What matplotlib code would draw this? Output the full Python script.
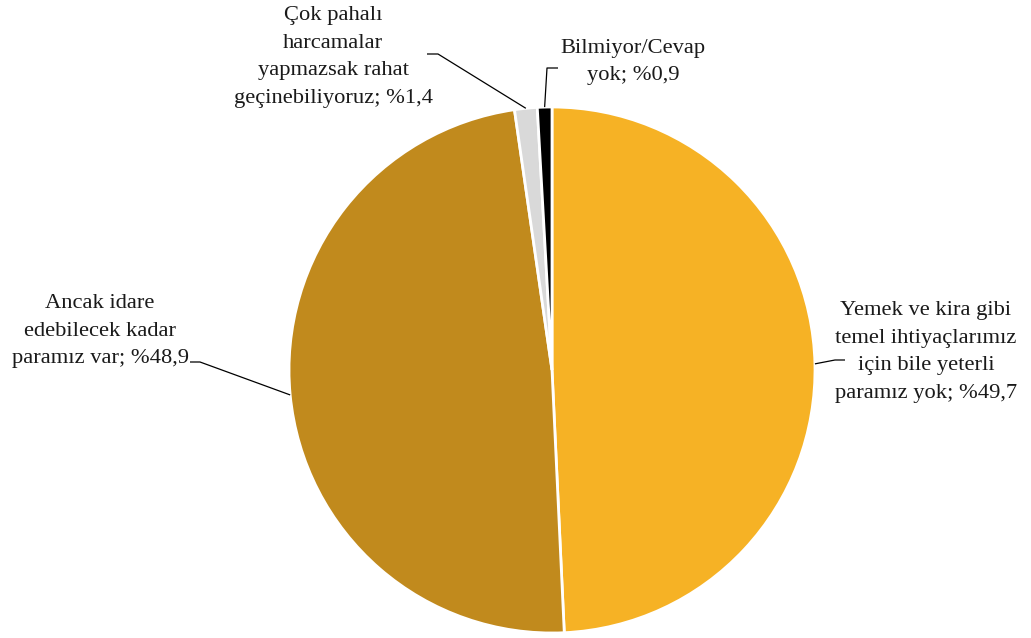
import matplotlib.pyplot as plt
import numpy as np

# answer categories and shares (%)
labels = [
    "Yemek ve kira gibi\ntemel ihtiyaçlarımız\niçin bile yeterli\nparamız yok; %49,7",
    "Ancak idare\nedebilecek kadar\nparamız var; %48,9",
    "Çok pahalı\nharcamalar\nyapmazsak rahat\ngeçinebiliyoruz; %1,4",
    "Bilmiyor/Cevap\nyok; %0,9",
]
shares = [49.7, 48.9, 1.4, 0.9]
colors = ["#F6B225", "#C18A1D", "#D9D9D9", "#000000"]

W, H = 1031, 638
fig = plt.figure(figsize=(W / 100, H / 100), dpi=100)
ax = fig.add_axes([0, 0, 1, 1])

cx, cy, r = 552, H - 370, 263
wedges, _ = ax.pie(shares, colors=colors, startangle=90, counterclock=False,
                   center=(cx, cy), radius=r, frame=True,
                   wedgeprops=dict(edgecolor="white", linewidth=2))

ax.set_xlim(0, W)
ax.set_ylim(0, H)
ax.set_aspect("equal")
ax.axis("off")

# label block centre, leader anchor, elbow offset
layout = [
    ((926, 352), (845, 360), -10),
    ((100, 331), (190, 362), 10),
    ((333, 57), (427, 54), 11),
    ((633, 62), (558, 68), -11),
]

font = ["Liberation Serif", "DejaVu Serif"]
for w, lab, (tpos, anchor, dx) in zip(wedges, labels, layout):
    ax.text(tpos[0], H - tpos[1], lab, ha="center", va="center", multialignment="center",
            fontsize=16.2, family=font, linespacing=1.62, color="#1a1a1a")
    mid = np.deg2rad((w.theta1 + w.theta2) / 2)
    ex, ey = cx + r * np.cos(mid), cy + r * np.sin(mid)
    ax_, ay_ = anchor[0], H - anchor[1]
    ax.plot([ax_, ax_ + dx, ex], [ay_, ay_, ey], color="black", lw=0.9,
            solid_capstyle="butt")

fig.savefig("out.png", dpi=100)
